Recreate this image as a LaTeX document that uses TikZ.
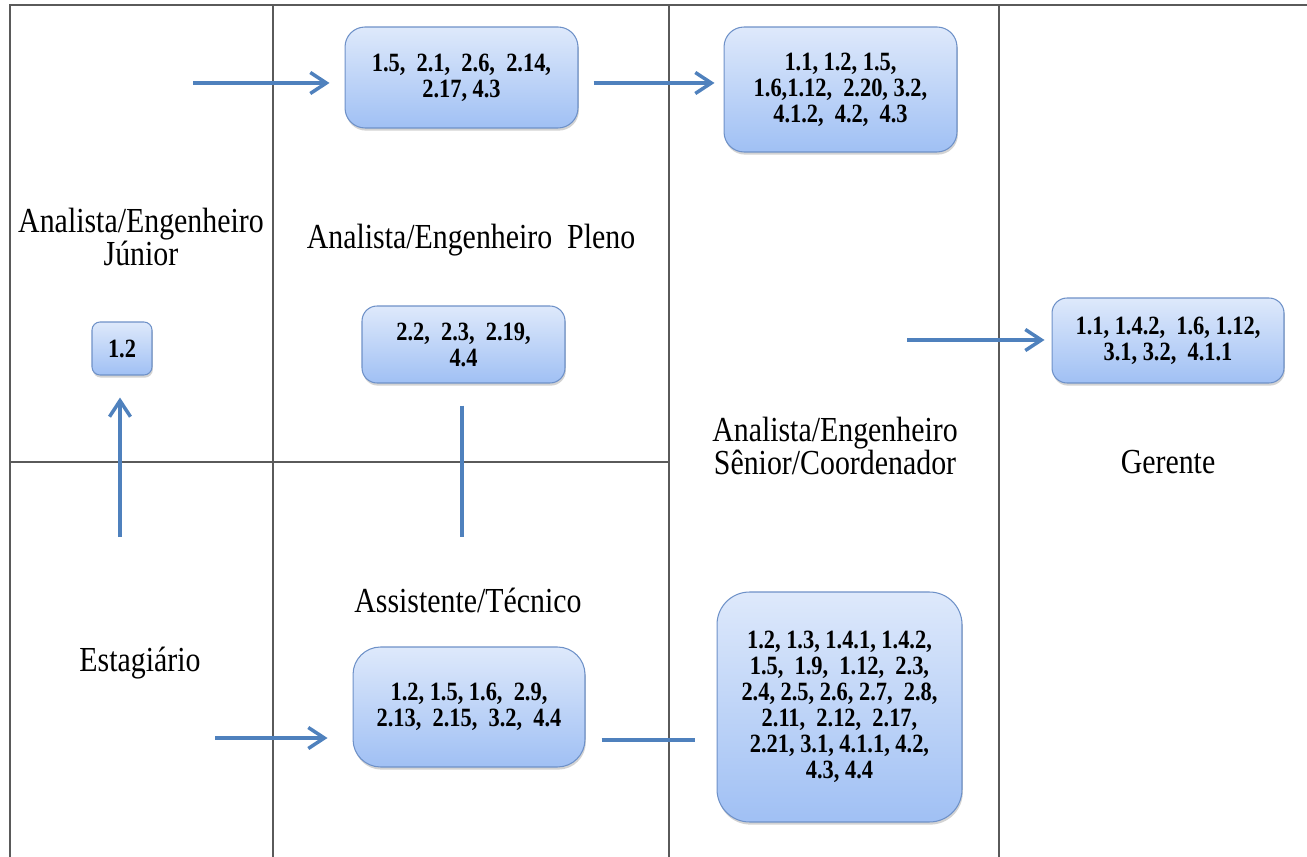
\documentclass[tikz,border=0pt]{standalone}
\usepackage{fontspec}
\setmainfont{Liberation Serif}
\newfontfamily\narrowserif{Liberation Serif}[FakeStretch=0.85]
\usetikzlibrary{arrows.meta,shadows}

\definecolor{gridgray}{RGB}{90,90,90}
\definecolor{flowblue}{RGB}{79,129,189}
\definecolor{boxtop}{RGB}{222,233,251}
\definecolor{boxbot}{RGB}{160,192,244}
\definecolor{boxline}{RGB}{110,145,200}

\tikzset{
  grid/.style={gridgray, line width=0.8pt},
  levelbox/.style={draw=boxline, line width=0.6pt, rounded corners=0.4cm,
    top color=boxtop, bottom color=boxbot, align=center, inner sep=2pt,
    font=\narrowserif\bfseries\fontsize{15}{14.8}\selectfont,
    drop shadow={shadow xshift=0.5pt, shadow yshift=-1.5pt, opacity=0.35}},
  level/.style={align=center, font=\narrowserif\fontsize{20}{18.5}\selectfont},
  flow/.style={flowblue, line width=2.3pt, -{Straight Barb[length=0.32cm, width=0.42cm, line width=2pt]}},
  link/.style={flowblue, line width=2.3pt}
}

\begin{document}
\begin{tikzpicture}[x=0.02cm, y=-0.02cm]
  \useasboundingbox (0,0) rectangle (1307,857);

  % grid
  \draw[grid] (10,857) -- (10,5) -- (1307,5);
  \draw[grid] (273,5) -- (273,857);
  \draw[grid] (669,5) -- (669,857);
  \draw[grid] (999,5) -- (999,857);
  \draw[grid] (10,462) -- (669,462);

  % level names
  \node[level] (junior) at (141,237) {Analista/Engenheiro\\Júnior};
  \node[level] (pleno) at (471,240) {Analista/Engenheiro~ Pleno};
  \node[level] (senior) at (835,446) {Analista/Engenheiro\\Sênior/Coordenador};
  \node[level] (gerente) at (1168,462) {Gerente};
  \node[level] (assist) at (468,600) {Assistente/Técnico};
  \node[level] (estag) at (140,663) {Estagiário};

  % competence boxes
  \node[levelbox, minimum width=4.66cm, minimum height=2.02cm] (plenotop) at (461.5,77.5)
    {1.5,~ 2.1,~ 2.6,~ 2.14,\\2.17, 4.3};
  \node[levelbox, minimum width=4.66cm, minimum height=2.5cm] (seniortop) at (840.5,89.5)
    {1.1, 1.2, 1.5,\\1.6,1.12,~ 2.20, 3.2,\\4.1.2,~ 4.2,~ 4.3};
  \node[levelbox, rounded corners=0.16cm, minimum width=1.2cm, minimum height=1.06cm] (juniorbox) at (122,348.5)
    {1.2};
  \node[levelbox, rounded corners=0.3cm, minimum width=4.06cm, minimum height=1.54cm] (plenomid) at (463.5,344.5)
    {2.2,~ 2.3,~ 2.19,\\4.4};
  \node[levelbox, rounded corners=0.3cm, minimum width=4.64cm, minimum height=1.7cm] (gerentebox) at (1168,340.5)
    {1.1, 1.4.2,~ 1.6, 1.12,\\3.1, 3.2,~ 4.1.1};
  \node[levelbox, rounded corners=0.55cm, minimum width=4.64cm, minimum height=2.4cm] (assistbox) at (469,707)
    {1.2, 1.5, 1.6,~ 2.9,\\2.13,~ 2.15,~ 3.2,~ 4.4};
  \node[levelbox, rounded corners=0.65cm, minimum width=4.9cm, minimum height=4.6cm] (seniorbot) at (839.5,707)
    {1.2, 1.3, 1.4.1, 1.4.2,\\1.5,~ 1.9,~ 1.12,~ 2.3,\\2.4, 2.5, 2.6, 2.7,~ 2.8,\\2.11,~ 2.12,~ 2.17,\\2.21, 3.1, 4.1.1, 4.2,\\4.3, 4.4};

  % connectors
  \coordinate (j0) at (193,83);
  \coordinate (s0) at (907,340);
  \coordinate (e0) at (120,537);
  \coordinate (p0) at (462,537);
  \coordinate (a0) at (215,738);

  \draw[flow, shorten >=0.3cm] (j0) -- (j0 -| plenotop.west);
  \draw[flow, shorten <=0.3cm, shorten >=0.18cm] (plenotop.east |- j0) -- (seniortop.west |- j0);
  \draw[flow, shorten >=0.14cm] (s0) -- (s0 -| gerentebox.west);
  \draw[flow, shorten >=0.44cm] (e0) -- (e0 |- juniorbox.south);
  \draw[link, shorten <=0.44cm] (plenomid.south -| p0) -- (p0);
  \draw[flow, shorten >=0.5cm] (a0) -- (a0 -| assistbox.west);
  \draw[link, shorten <=0.32cm, shorten >=0.44cm] (assistbox.east |- 0,740) -- (seniorbot.west |- 0,740);
\end{tikzpicture}
\end{document}
